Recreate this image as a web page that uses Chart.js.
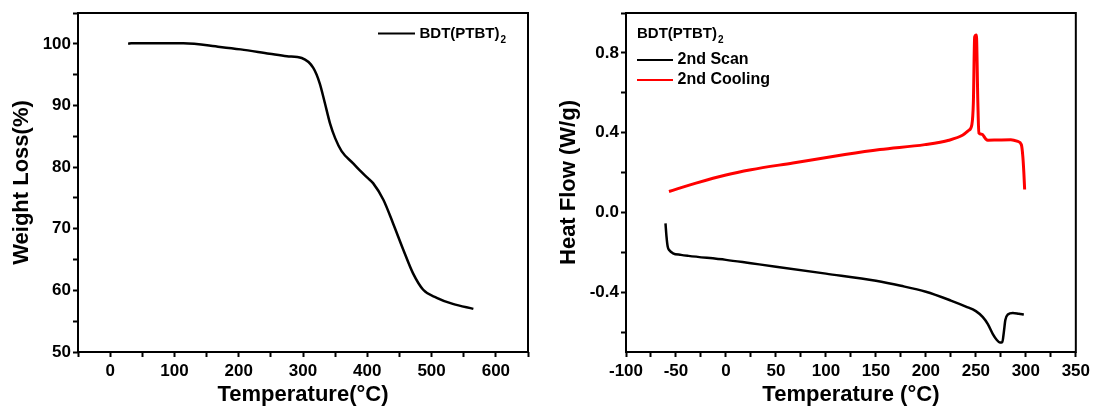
<!DOCTYPE html>
<html>
<head>
<meta charset="utf-8">
<script src="https://cdn.jsdelivr.net/npm/chart.js@4.4.0/dist/chart.umd.min.js"></script>
<style>
    body { margin: 0; background: #fff; }
    .grafico { position: absolute; top: 0; width: 547px; height: 410px; }
</style>
</head>
<body>
<div class="grafico" style="left:0"><canvas id="GraficoTGA" width="547" height="410"></canvas></div>
<div class="grafico" style="left:547px"><canvas id="GraficoDSC" width="547" height="410"></canvas></div>
<script>
// TGA - perda de massa
var tgaTemperatura = [28, 33, 114, 171, 203, 248, 275, 298, 316, 326, 334, 342, 350, 360, 378, 388, 401, 409, 425, 440, 456, 471, 487, 508, 533, 565];
var tgaPeso = [100.0, 100.1, 100.1, 99.5, 99.1, 98.4, 98.0, 97.7, 96.1, 93.6, 90.4, 87.1, 84.7, 82.6, 80.6, 79.5, 78.2, 77.4, 74.7, 70.9, 66.6, 62.8, 60.1, 58.8, 57.8, 57.0];

// DSC - segundo aquecimento
var scanTemperatura = [-60.5, -59.5, -58.3, -56.6, -53, -45, -37.5, 0, 25, 50, 100, 150, 175, 200, 225, 240, 250, 257, 262, 267, 271, 274, 276.5, 278, 279.5, 282, 287, 293, 298];
var scanFluxo = [-0.055, -0.12, -0.171, -0.19, -0.205, -0.213, -0.218, -0.238, -0.255, -0.272, -0.307, -0.343, -0.368, -0.398, -0.442, -0.472, -0.495, -0.525, -0.56, -0.61, -0.64, -0.652, -0.65, -0.6, -0.54, -0.512, -0.504, -0.508, -0.512];

// DSC - segundo resfriamento
var resfTemperatura = [-57, -30, 0, 25, 67, 119, 154, 199, 223, 237, 243, 246, 247.5, 248.8, 250.5, 252, 253, 256, 260, 262, 272, 285, 292, 295.5, 297, 298, 298.8];
var resfFluxo = [0.105, 0.147, 0.188, 0.214, 0.248, 0.29, 0.315, 0.34, 0.362, 0.388, 0.412, 0.44, 0.55, 0.88, 0.89, 0.55, 0.398, 0.392, 0.368, 0.362, 0.363, 0.364, 0.356, 0.34, 0.28, 0.2, 0.115];

var nomeAmostra = 'BDT(PTBT)₂';
var nomesSeries = ['2nd Scan', '2nd Cooling'];

var familia = '"Liberation Sans", Arial, sans-serif';

function MontarPontos(xs, ys) {
    var pontos = [];
    var indice = 0;
    while (indice < xs.length) {
        pontos.push({ x: xs[indice], y: ys[indice] });
        indice++;
    }
    return pontos;
}

function EhMultiplo(v, passo) {
    var q = v / passo;
    return Math.abs(q - Math.round(q)) < 1e-6;
}

// escreve o texto e troca o "₂" por um 2 pequeno e rebaixado
function EscreverFormula(ctx, texto, x, y, tamanho) {
    var partes = texto.split('₂');
    ctx.font = 'bold ' + tamanho + 'px ' + familia;
    ctx.textBaseline = 'middle';
    ctx.textAlign = 'left';
    ctx.fillText(partes[0], x, y);
    if (partes.length > 1) {
        var largura = ctx.measureText(partes[0]).width;
        ctx.font = 'bold ' + Math.round(tamanho * 0.65) + 'px ' + familia;
        ctx.fillText('2', x + largura + 1, y + tamanho * 0.42);
    }
}

var moldura = {
    id: 'moldura',
    afterDatasetsDraw: function (chart) {
        var a = chart.chartArea;
        var ctx = chart.ctx;
        ctx.save();
        ctx.strokeStyle = '#000';
        ctx.lineWidth = 2;
        ctx.strokeRect(a.left, a.top, a.right - a.left, a.bottom - a.top);
        ctx.restore();
    }
};

var legendaInterna = {
    id: 'legendaInterna',
    afterDraw: function (chart, args, op) {
        var ctx = chart.ctx;
        var y = op.y;
        ctx.save();
        ctx.fillStyle = '#000';
        if (op.titulo) {
            EscreverFormula(ctx, op.titulo, op.x, op.tituloY, op.tamanhoTitulo);
        }
        chart.data.datasets.forEach(function (ds) {
            ctx.strokeStyle = ds.borderColor;
            ctx.lineWidth = 2;
            ctx.beginPath();
            ctx.moveTo(op.x, y);
            ctx.lineTo(op.x + op.traco, y);
            ctx.stroke();
            ctx.fillStyle = '#000';
            EscreverFormula(ctx, ds.label, op.x + op.traco + 4.5, y, op.tamanho);
            y += op.linha;
        });
        ctx.restore();
    }
};

function Eixo(min, max, passo, rotuloCada, casas, titulo, horizontal, largura) {
    var eixo = {
        type: 'linear',
        min: min,
        max: max,
        border: { display: false },
        grid: {
            drawOnChartArea: false,
            drawTicks: true,
            tickLength: 5,
            tickColor: '#000',
            tickWidth: 2
        },
        ticks: {
            stepSize: passo,
            autoSkip: false,
            maxRotation: 0,
            padding: horizontal ? 4 : 2,
            color: '#000',
            font: { family: familia, size: 17, weight: 'bold' },
            callback: function (v) {
                return EhMultiplo(v, rotuloCada) ? v.toFixed(casas) : '';
            }
        },
        title: {
            display: true,
            text: titulo,
            color: '#000',
            font: { family: familia, size: 22, weight: 'bold' },
            padding: horizontal ? { top: 0, bottom: 2 } : { top: 9, bottom: 0 }
        }
    };
    if (horizontal) {
        eixo.afterFit = function (s) { s.height = 58; };
    } else {
        eixo.afterFit = function (s) { s.width = largura; };
    }
    return eixo;
}

function CarregarGraficoTGA() {
    new Chart(document.getElementById('GraficoTGA'), {
        type: 'line',
        data: {
            datasets: [{
                label: nomeAmostra,
                data: MontarPontos(tgaTemperatura, tgaPeso),
                borderColor: '#000000',
                borderWidth: 2.5,
                pointRadius: 0,
                fill: false,
                cubicInterpolationMode: 'monotone'
            }]
        },
        options: {
            responsive: false,
            animation: false,
            layout: { padding: { left: 0, top: 13, right: 19, bottom: 0 } },
            scales: {
                x: Eixo(-50, 650, 50, 100, 0, 'Temperature(°C)', true),
                y: Eixo(50, 105, 5, 10, 0, 'Weight Loss(%)', false, 78)
            },
            plugins: {
                legend: { display: false },
                tooltip: { enabled: false },
                legendaInterna: { x: 378, y: 33.5, traco: 37, linha: 20, tamanho: 15 }
            }
        },
        plugins: [moldura, legendaInterna]
    });
}

function CarregarGraficoDSC() {
    var yDSC = Eixo(-0.7, 1.0, 0.2, 0.4, 1, 'Heat Flow (W/g)', false, 79);
    yDSC.ticks.includeBounds = false;
    new Chart(document.getElementById('GraficoDSC'), {
        type: 'line',
        data: {
            datasets: [
                {
                    label: nomesSeries[0],
                    data: MontarPontos(scanTemperatura, scanFluxo),
                    borderColor: '#000000',
                    borderWidth: 2.5,
                    pointRadius: 0,
                    fill: false,
                    cubicInterpolationMode: 'monotone'
                },
                {
                    label: nomesSeries[1],
                    data: MontarPontos(resfTemperatura, resfFluxo),
                    borderColor: '#ff0000',
                    borderWidth: 3,
                    pointRadius: 0,
                    fill: false,
                    cubicInterpolationMode: 'monotone'
                }
            ]
        },
        options: {
            responsive: false,
            animation: false,
            layout: { padding: { left: 0, top: 13, right: 18, bottom: 0 } },
            scales: {
                x: Eixo(-100, 350, 25, 50, 0, 'Temperature (°C)', true),
                y: yDSC
            },
            plugins: {
                legend: { display: false },
                tooltip: { enabled: false },
                legendaInterna: {
                    x: 90, y: 60, traco: 36, linha: 20, tamanho: 16,
                    titulo: nomeAmostra, tituloY: 33.5, tamanhoTitulo: 15
                }
            }
        },
        plugins: [moldura, legendaInterna]
    });
}

CarregarGraficoTGA();
CarregarGraficoDSC();
</script>
</body>
</html>
